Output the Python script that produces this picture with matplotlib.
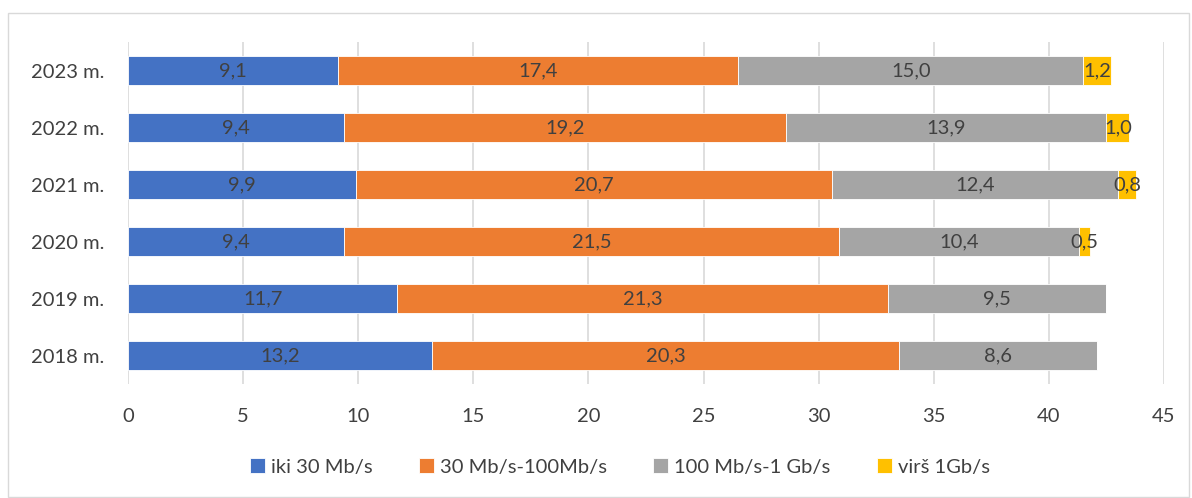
import matplotlib
matplotlib.use("Agg")
import matplotlib.pyplot as plt
from matplotlib.patches import Rectangle
import numpy as np

plt.rcParams['font.family'] = ['Lato', 'DejaVu Sans']

years = ["2018 m.", "2019 m.", "2020 m.", "2021 m.", "2022 m.", "2023 m."]
series_names = ["iki 30 Mb/s", "30 Mb/s-100Mb/s", "100 Mb/s-1 Gb/s", "virš 1Gb/s"]
below_30 = [13.2, 11.7, 9.4, 9.9, 9.4, 9.1]
mid_30_100 = [20.3, 21.3, 21.5, 20.7, 19.2, 17.4]
mid_100_1g = [8.6, 9.5, 10.4, 12.4, 13.9, 15.0]
above_1g = [None, None, 0.5, 0.8, 1.0, 1.2]
colors = ["#4472C4", "#ED7D31", "#A5A5A5", "#FFC000"]
text_color = "#404040"
fs = 14.5

fig = plt.figure(figsize=(11.92, 4.98), dpi=100)
ax = fig.add_axes([128 / 1192, 1 - 384 / 498, (1164 - 128) / 1192, (384 - 42) / 498])

# outer chart frame
fig.patches.append(Rectangle((8 / 1192, 1 / 498), 1181 / 1192, 484 / 498,
                             transform=fig.transFigure, fill=False,
                             edgecolor="#D9D9D9", linewidth=1.0))

y = np.arange(len(years))
left = np.zeros(len(years))
for name, vals, col in zip(series_names,
                           [below_30, mid_30_100, mid_100_1g, above_1g], colors):
    v = np.array([np.nan if x is None else x for x in vals], dtype=float)
    w = np.nan_to_num(v)
    ax.barh(y, w, left=left, height=0.5, color=col, label=name,
            edgecolor="white", linewidth=0.6, zorder=3)
    for i, val in enumerate(v):
        if not np.isnan(val):
            ax.text(left[i] + w[i] / 2, y[i], f"{val:.1f}".replace(".", ","),
                    ha="center", va="center", fontsize=fs, color=text_color,
                    zorder=4)
    left = left + w

ax.set_xlim(0, 45)
ax.set_ylim(-0.5, 5.5)
ax.set_xticks(np.arange(0, 46, 5))
ax.set_yticks(y)
ax.set_yticklabels(years)
ax.tick_params(axis="both", length=0, labelsize=fs, labelcolor=text_color)
ax.tick_params(axis="x", pad=17)
ax.tick_params(axis="y", pad=17)
ax.grid(axis="x", color="#D9D9D9", linewidth=1.2, zorder=0)
for s in ax.spines.values():
    s.set_visible(False)

leg = fig.legend(loc="center", bbox_to_anchor=(0.52, 1 - 467 / 498), ncol=4,
                 frameon=False, fontsize=fs, handlelength=0.75, handleheight=0.75,
                 handletextpad=0.3, columnspacing=2.3)
for t in leg.get_texts():
    t.set_color(text_color)

fig.savefig("out.png", dpi=100)
